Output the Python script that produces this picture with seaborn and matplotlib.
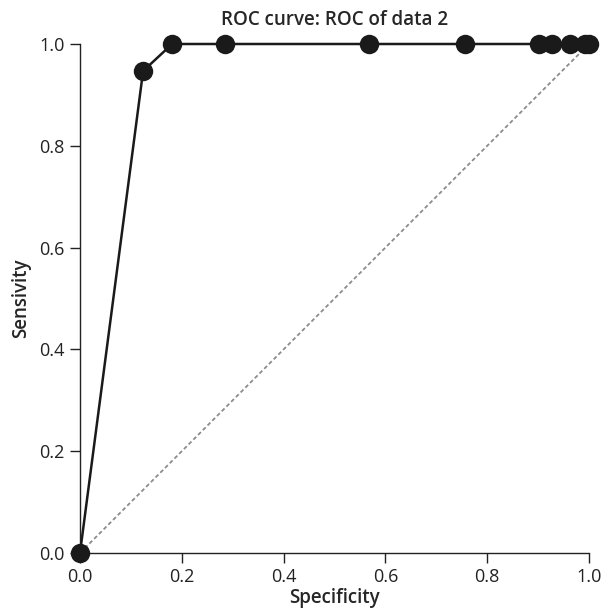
import matplotlib
matplotlib.use("Agg")
import matplotlib.pyplot as plt
import seaborn as sns
import pandas as pd

# ROC of data 2
specificity = [0.0, 0.124, 0.181, 0.285, 0.568, 0.756, 0.902, 0.927, 0.963, 0.993, 1.0]
sensitivity = [0.0, 0.947, 1.0, 1.0, 1.0, 1.0, 1.0, 1.0, 1.0, 1.0, 1.0]
ticks = [0.0, 0.2, 0.4, 0.6, 0.8, 1.0]

df = pd.DataFrame({"Specificity": specificity, "Sensivity": sensitivity})

sns.set_style("ticks")
plt.rcParams["font.family"] = ["Open Sans", "DejaVu Sans"]

fig = plt.figure(figsize=(6.05, 6.14), dpi=100)
ax = fig.add_axes([80 / 605, 1 - 553 / 614, 509 / 605, 509 / 614])

# diagonal chance line
ax.plot([0, 1], [0, 1], color="#8c8c8c", linewidth=1.3, linestyle=(0, (2.2, 1.5)), zorder=1)

sns.lineplot(data=df, x="Specificity", y="Sensivity", sort=False, ax=ax,
             color="#1a1a1a", linewidth=1.8, marker="o", markersize=14,
             markeredgewidth=0, clip_on=False, zorder=5)

ax.set_xlim(0, 1)
ax.set_ylim(0, 1)
ax.set_xticks(ticks)
ax.set_yticks(ticks)
ax.set_xticklabels([f"{t:.1f}" for t in ticks])
ax.set_yticklabels([f"{t:.1f}" for t in ticks])
ax.tick_params(direction="out", length=7, width=1, colors="#222222", labelsize=13, pad=4)
for side in ["top", "right"]:
    ax.spines[side].set_visible(False)
for side in ["left", "bottom"]:
    ax.spines[side].set_linewidth(1)
    ax.spines[side].set_color("#222222")

ax.set_title("ROC curve: ROC of data 2", fontsize=13.5, fontweight="semibold", pad=14)
ax.set_xlabel("Specificity", fontsize=13.5, fontweight="semibold", labelpad=1)
ax.set_ylabel("Sensivity", fontsize=13.5, fontweight="semibold", labelpad=6)

fig.savefig("out.png", dpi=100)
